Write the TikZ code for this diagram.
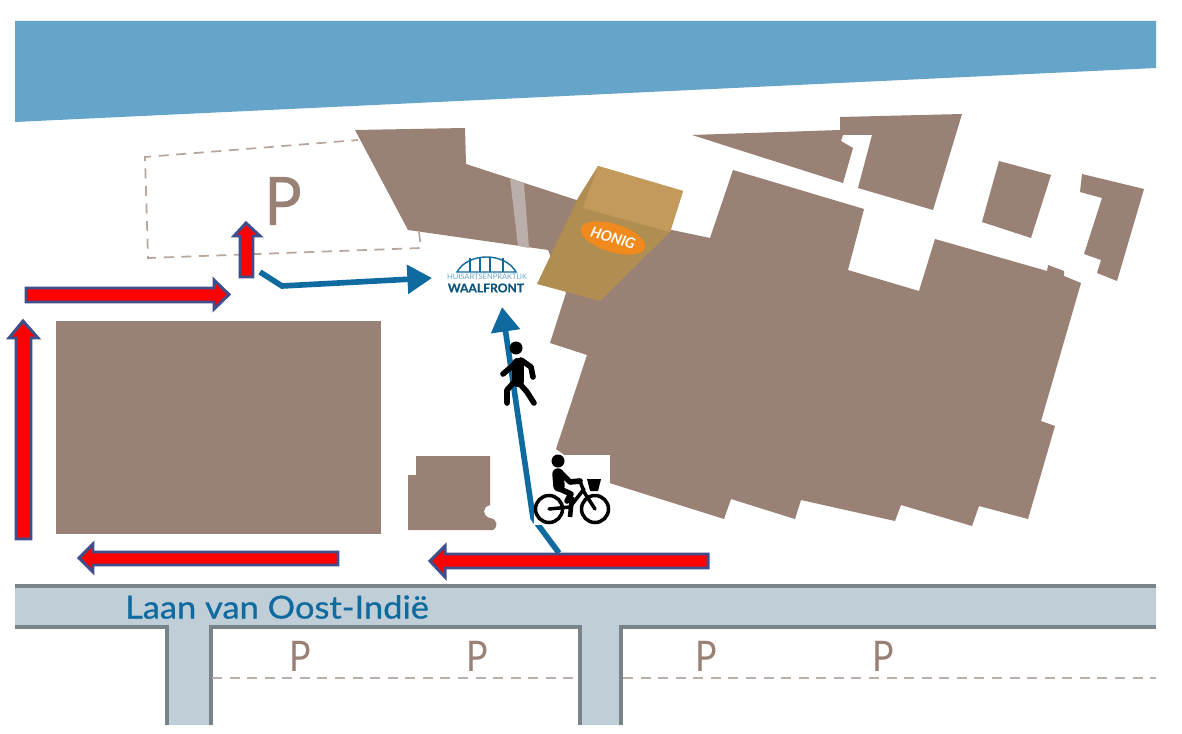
\documentclass[tikz,border=0pt]{standalone}
\usepackage{fontspec}
\setmainfont{Lato}
\usetikzlibrary{arrows.meta,shapes.geometric}
\definecolor{waterblue}{HTML}{66A5CA}
\definecolor{buildingbrown}{HTML}{9A8175}
\definecolor{stripgrey}{HTML}{BAAFAB}
\definecolor{honigdark}{HTML}{B08E52}
\definecolor{honiglight}{HTML}{C39A5C}
\definecolor{honigorange}{HTML}{F08A1D}
\definecolor{roadfill}{HTML}{BFCED7}
\definecolor{roadedge}{HTML}{78848A}
\definecolor{routeblue}{HTML}{0F6A9F}
\definecolor{arrownavy}{HTML}{3F4F8C}
\definecolor{logolight}{HTML}{6FA8CC}
\tikzset{
	building/.style={fill=buildingbrown},
	roadline/.style={draw=roadedge, line width=2.4pt},
	parkline/.style={draw=#1, line width=1pt, dash pattern=on 5.7pt off 4.3pt},
	parksign/.style={text=buildingbrown, inner sep=0pt, xscale=0.85},
	redarrow/.style={fill=red, draw=arrownavy, line width=1.7pt},
	routeline/.style={draw=routeblue, line width=3.2pt, -{Triangle[length=14pt,width=16pt]}},
	limb/.style={line width=3.2pt, line cap=round, line join=round},
	frame/.style={line width=2pt, line cap=round, line join=round}
}
\begin{document}
\begin{tikzpicture}[x=0.02cm, y=-0.02cm]
	\useasboundingbox (0,0) rectangle (1182,733);
	\fill[white] (0,0) rectangle (1182,733);

	% water
	\fill[waterblue] (15,21) -- (1156,21) -- (1156,68) -- (15,122) -- cycle;

	% parking behind
	\draw[parkline={buildingbrown!70!white}] (419,232) -- (421,248) -- (148,258) -- (145,157) -- (358,140);
	\node[parksign, xscale=1.1, font=\addfontfeature{FakeBold=0.6}\fontsize{38}{40}\selectfont] (parkmain) at (283,201) {P};

	% buildings
	\fill[building] (355,130) -- (465,128) -- (466,164) -- (598,207) -- (672,230) -- (710,238) -- (733,170)
		-- (864,209) -- (848,270) -- (919,291) -- (935,239) -- (1047,271) -- (1048,265) -- (1064,271)
		-- (1064,276) -- (1081,283) -- (1041,421) -- (1055,426) -- (1028,519) -- (979,506) -- (972,526)
		-- (901,505) -- (895,521) -- (801,500) -- (795,519) -- (731,499) -- (724,519) -- (600,480)
		-- (556,449) -- (587,355) -- (550,343) -- (566,293) -- (548,250) -- (408,230) -- cycle;
	\fill[building] (692,135) -- (840,130) -- (840,117) -- (962,114) -- (933,210) -- (858,188) -- (872,135)
		-- (843,135) -- (841,141) -- (853,148) -- (843,183) -- cycle;
	\fill[building] (999,161) -- (1051,175) -- (1031,238) -- (982,222) -- cycle;
	\fill[building] (1082,174) -- (1144,189) -- (1117,281) -- (1097,273) -- (1101,260) -- (1084,254)
		-- (1102,198) -- (1080,192) -- cycle;
	\fill[building] (56,321) rectangle (381,534);
	\fill[building] (416,456) -- (490,456) -- (490,505) .. controls (482,507) and (482,516) .. (490,518)
		.. controls (497,519) and (499,526) .. (493,530) -- (408,530) -- (408,475) -- (416,475) -- cycle;
	\fill[stripgrey] (510,178) -- (524,183) -- (529,248) -- (518,246) -- cycle;

	% honig
	\fill[honigdark] (578,198) -- (537,284) -- (600,301) -- (670,232) -- (683,191) -- (598,166) -- cycle;
	\fill[honiglight] (598,166) -- (683,191) -- (670,232) -- (583,208) -- cycle;
	\node[ellipse, fill=honigorange, text=white, rotate=-17, minimum width=38pt, minimum height=16pt, inner sep=0pt,
		font=\bfseries\itshape\fontsize{8.3}{9}\selectfont] (honig) at (613,238) {HONIG};

	% logo
	\draw[routeblue, line width=0.8pt] (457,272) .. controls (468,252) and (505,252) .. (516,272) -- cycle;
	\foreach \xpos in {470,480,490,503}
		\draw[routeblue, line width=0.8pt] (\xpos,258) -- (\xpos,272);
	\node[text=logolight, inner sep=0pt, font=\fontsize{4.3}{5}\selectfont] (logotop) at (487,277) {HUISARTSENPRAKTIJK};
	\node[text=routeblue!80!black, inner sep=0pt, font=\bfseries\addfontfeature{FakeBold=0.6}\fontsize{6.9}{8}\selectfont] (logoname) at (486,288) {WAALFRONT};

	% road
	\fill[roadfill] (15,586) -- (1156,586) -- (1156,627) -- (621,627) -- (621,725) -- (580,725) -- (580,627)
		-- (211,627) -- (211,725) -- (167,725) -- (167,627) -- (15,627) -- cycle;
	\draw[roadline] (15,586) -- (1156,586);
	\draw[roadline] (15,627) -- (167,627) -- (167,725);
	\draw[roadline] (211,725) -- (211,627) -- (580,627) -- (580,725);
	\draw[roadline] (621,725) -- (621,627) -- (1156,627);
	\draw[parkline=stripgrey] (212,678) -- (577,678);
	\draw[parkline=stripgrey] (623,678) -- (1156,678);
	\node[text=routeblue, inner sep=0pt, yscale=0.92, font=\addfontfeature{FakeBold=0.7}\fontsize{19.6}{22}\selectfont] (roadname) at (277,607) {Laan van Oost-Indië};
	\foreach \xpos/\pname in {300/a,477/b,706/c,883/d}
		\node[parksign, font=\fontsize{24}{26}\selectfont] (park\pname) at (\xpos,656) {P};

	% routes
	\coordinate (carstart) at (260,272);
	\coordinate (carbend) at (282,286);
	\coordinate (carend) at (432,278);
	\draw[routeline] (carstart) -- (carbend) -- (carend);
	\coordinate (walkstart) at (559,553);
	\coordinate (walkbend) at (533,518);
	\coordinate (walkend) at (502,307);
	\draw[routeline] (walkstart) -- (walkbend) -- (walkend);

	% red arrows
	\draw[redarrow] (16,539) -- (16,338) -- (9,338) -- (23,321) -- (38,338) -- (31,338) -- (31,539) -- cycle;
	\draw[redarrow] (26,288) -- (214,288) -- (214,280) -- (229,294.5) -- (214,309) -- (214,302) -- (26,302) -- cycle;
	\draw[redarrow] (240,277) -- (240,236) -- (234,236) -- (246,223) -- (260,236) -- (253,236) -- (253,277) -- cycle;
	\draw[redarrow] (338,552) -- (93,552) -- (93,544) -- (79,558) -- (93,572) -- (93,565) -- (338,565) -- cycle;
	\draw[redarrow] (708,554) -- (445,554) -- (445,546) -- (430,561) -- (445,577) -- (445,568) -- (708,568) -- cycle;

	% walker
	\fill (516,348) circle (6.5);
	\draw[line width=7pt, line cap=round] (518,364) -- (518,381);
	\draw[limb] (517,362) -- (503,374);
	\draw[limb] (521,360) -- (531,367) -- (533,377);
	\draw[limb] (516,380) -- (507,390) -- (507,403);
	\draw[limb] (520,384) -- (527,392) -- (534,403);

	% cyclist
	\fill[white] (534,455) rectangle (610,525);
	\fill (558,461) circle (6.5);
	\draw[line width=6.5pt, line cap=round] (558,474) -- (559,486);
	\draw[limb] (560,472) -- (570,482) -- (580,481);
	\draw[limb] (560,489) -- (571,494) -- (567,501);
	\draw[frame] (549,509) circle (13.5) (595,509) circle (13.5);
	\draw[frame] (580,481) -- (584,492) -- (595,509);
	\draw[frame] (584,489) -- (570,507) -- (549,509);
	\draw[line width=2.6pt] (572,497) -- (570,517);
	\fill (587,479) -- (601,479) -- (598,491) -- (590,491) -- cycle;
\end{tikzpicture}
\end{document}
